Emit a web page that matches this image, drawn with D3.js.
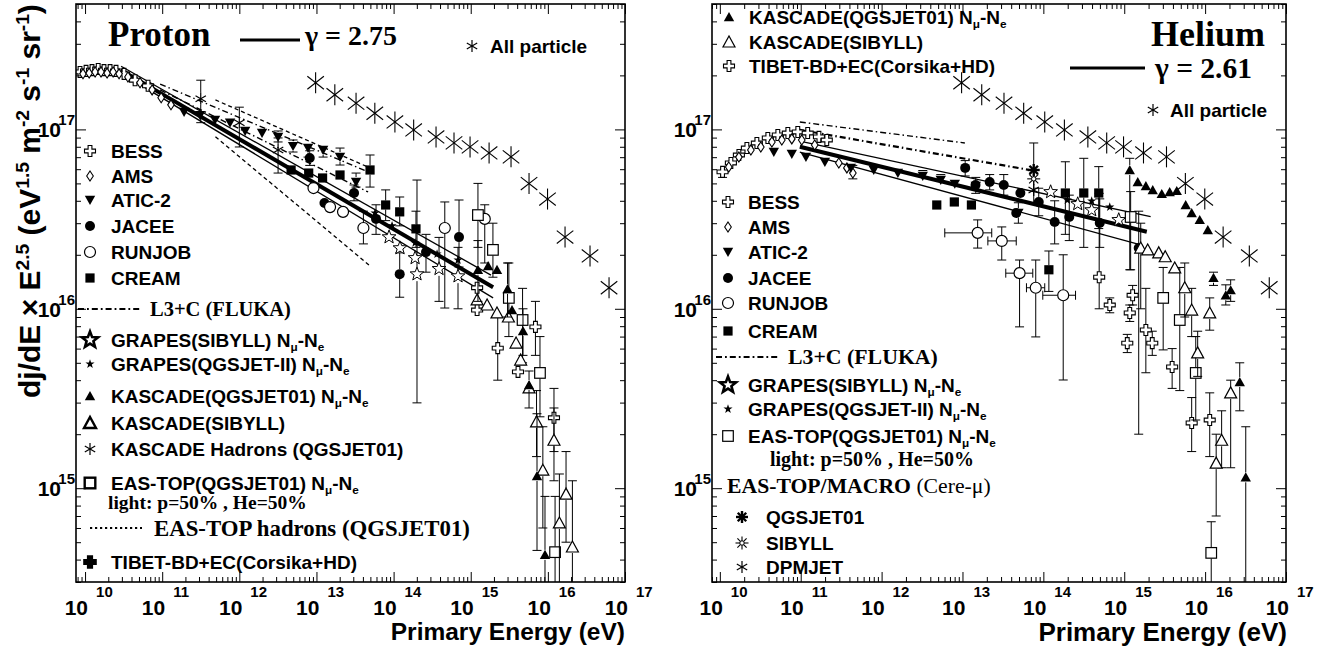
<!DOCTYPE html>
<html>
<head>
<meta charset="utf-8">
<title>Proton and helium spectra</title>
<script src="https://cdn.jsdelivr.net/npm/d3@7/dist/d3.min.js"></script>
<style>
  html,body{margin:0;padding:0;background:#fff;}
  svg{display:block;}
  .sans{font-family:"Liberation Sans",Arial,Helvetica,sans-serif;font-weight:bold;}
  .serif{font-family:"Liberation Serif","Times New Roman",Times,serif;font-weight:bold;}
</style>
</head>
<body>
<svg id="chart" width="1330" height="650"></svg>
<script>
// ---------------------------------------------------------------
// Data: [energy (eV), flux, fluxLow, fluxHigh, energyLow, energyHigh]
// flux = dj/dE x E^2.5 in eV^1.5 m^-2 s^-1 sr^-1
// ---------------------------------------------------------------
const allParticle = [
  [9.75e12,1.82e17],[1.73e13,1.56e17],[3.26e13,1.40e17],[5.71e13,1.23e17],
  [1.04e14,1.10e17],[1.82e14,9.93e16],[3.55e14,9.08e16],[6.07e14,8.41e16],
  [9.8e14,7.99e16],[1.73e15,7.39e16],[3.33e15,7.03e16],[5.7e15,4.99e16],
  [9.9e15,4.09e16],[1.67e16,2.51e16],[3.52e16,1.97e16],[6.21e16,1.31e16]
];

// ---- proton ----
const protonBESS = [
  [8.6e9,2.09e17],[1.03e10,2.12e17],[1.23e10,2.14e17],[1.48e10,2.17e17],[1.76e10,2.14e17],
  [2.11e10,2.14e17],[2.52e10,2.12e17],[3.2e10,2.04e17],[4.45e10,1.88e17],[6.56e10,1.75e17]
];
const protonAMS = [
  [9.4e9,2.04e17],[1.13e10,2.06e17],[1.35e10,2.09e17],[1.61e10,2.09e17],[1.93e10,2.06e17],
  [2.31e10,2.09e17],[2.76e10,2.04e17],[3.6e10,1.96e17],[5.16e10,1.82e17],[7.4e10,1.66e17],
  [9.7e10,1.50e17],[1.3e11,1.37e17]
];
const protonATIC2 = [
  [1.92e11,1.25e17],[3.1e11,1.20e17],[4.84e11,1.13e17],[7.58e11,1.09e17],[1.19e12,9.8e16],
  [1.97e12,9.55e16],[3.18e12,9.08e16,8.51e16,9.8e16],[4.97e12,8.07e16,7.48e16,8.73e16],
  [7.78e12,7.87e16,7.01e16,8.19e16],[1.22e13,7.68e16,7.01e16,7.98e16],
  [2.02e13,7.01e16,6.33e16,7.87e16],[3.26e13,5.09e16,4.77e16,5.71e16]
];
const protonKascadeHad = [
  [3.16e11,1.48e17,1.09e17,1.88e17],[1.0e12,1.09e17,7.98e16,1.33e17],[3.18e12,7.68e16,5.71e16,8.96e16]
];
const protonJACEE = [
  [8.18e12,6.93e16,6.3e16,7.6e16],[1.27e13,3.89e16],[3.07e13,4.42e16,4.0e16,4.9e16],
  [5.92e13,3.17e16,2.6e16,3.8e16],[1.2e14,1.56e16,1.16e16,2.05e16],
  [2.63e14,2.07e16,1.6e16,2.6e16],[7.05e14,2.51e16,1.71e16,4.04e16]
];
const protonRUNJOB = [
  [9.15e12,4.71e16],[1.5e13,3.69e16],[2.21e13,3.47e16],[4.06e13,2.82e16,2.3e16,3.5e16],
  [4.61e14,2.82e16,1.01e16,3.94e16],[1.52e15,3.17e16,1.8e16,3.8e16]
];
const protonCREAM = [
  [4.69e12,5.94e16],[7.93e12,5.71e16],[1.2e13,5.36e16],[2.02e13,5.57e16],
  [4.95e13,5.94e16,4.77e16,7.2e16],[7.89e13,3.79e16,3.1e16,4.6e16],
  [1.2e14,3.47e16,2.9e16,4.2e16],[1.95e14,2.79e16,2.2e16,3.5e16]
];
const protonGrapesSib = [
  [8.73e13,2.51e16],[1.21e14,2.18e16],[1.9e14,1.92e16],[2.01e14,1.56e16,2.99e15,5.22e16],
  [3.88e14,1.67e16,1.1e16,2.5e16],[6.84e14,1.52e16,1.0e16,2.2e16]
];
const protonGrapesQgs = [
  [5.74e13,3.42e16],[9.55e13,2.90e16],[1.9e14,2.33e16],[3.66e14,2.02e16],[6.84e14,1.87e16]
];
const protonKascadeQgs = [
  [1.24e15,1.65e16,1.1e16,2.4e16],[1.68e15,1.73e16],[2.19e15,1.65e16],
  [3.0e15,1.29e16,9e15,1.8e16],[3.43e15,9.84e15],[4.76e15,7.52e15,5.5e15,1.0e16],
  [5.7e15,3.76e15,2.8e15,4.5e15],[7.23e15,1.17e15,4.5e14,2.6e15],[9.18e15,4.25e14,2.5e14,9e14]
];
const protonKascadeSib = [
  [1.21e15,1.12e16],[1.63e15,1.05e16],[2.19e15,9.48e15],[3.08e15,9.0e15],[3.87e15,6.44e15],
  [4.44e15,5.18e15],[5.7e15,3.62e15],[7.13e15,2.34e15,1.5e15,3.5e15],
  [8.61e15,1.26e15,6e14,2.2e15],[1.2e16,1.85e15,1.1e15,2.8e15],[1.41e16,6.4e14,2.5e14,1.2e15],
  [1.72e16,9.27e14,5e14,1.6e15],[2.08e16,4.7e14,2.5e14,1.1e15]
];
const protonEasTop = [
  [1.24e15,3.33e16,2.2e16,5e16],[1.94e15,2.13e16,1.5e16,3e16],[3.12e15,1.15e16,7e15,1.8e16],
  [4.7e15,8.66e15,5e15,1.3e16],[7.9e15,4.39e15,2.5e15,7e15],[1.24e16,4.4e14,2.5e14,9e14]
];
const protonTibet = [
  [1.21e15,1.31e16],[1.21e15,9.84e15],[2.24e15,6.04e15,4e15,9e15],[4.1e15,4.45e15],
  [6.9e15,7.93e15,5.5e15,1.1e16],[1.2e16,2.47e15,1.6e15,3.6e15]
];
const protonFit   = [[2.93e10,2.14e17],[1.95e15,1.32e16]];
const protonFitHi = [[2.93e10,2.25e17],[1.83e15,1.54e16]];
const protonFitLo = [[2.93e10,2.06e17],[1.95e15,1.15e16]];
const protonL3CHi = [[9.4e10,1.79e17],[4.67e13,5.8e16]];
const protonL3CLo = [[9.4e10,1.66e17],[4.67e13,4.48e16]];
const protonEasHadHi = [[4.9e11,1.46e17],[4.53e13,6.2e16]];
const protonEasHadLo = [[4.9e11,9.1e16],[5.07e13,1.72e16]];

// ---- helium ----
const heliumBESS = [
  [1.08e10,5.8e16,5.4e16,6.2e16],[1.37e10,6.5e16],[1.72e10,7.2e16],[2.16e10,7.87e16],
  [2.87e10,8.4e16],[3.92e10,8.96e16],[5.21e10,9.31e16],[6.93e10,9.55e16],[9.2e10,9.68e16],
  [1.22e11,9.55e16],[1.68e11,9.08e16],[2.1e11,8.73e16]
];
const heliumAMS = [
  [1.29e10,6.17e16],[1.72e10,7.01e16],[2.42e10,7.68e16],[3.21e10,7.98e16],[4.4e10,8.51e16],
  [5.84e10,8.73e16],[7.76e10,8.85e16],[1.03e11,8.73e16],[1.49e11,8.19e16],[2.96e11,6.5e16],
  [3.72e11,6.1e16],[4.41e11,5.71e16,5.3e16,6.3e16]
];
const heliumATIC2 = [
  [4.65e10,7.48e16],[7.76e10,7.29e16],[1.16e11,7.01e16],[1.99e11,6.58e16],[4.16e11,6.1e16],
  [8.0e11,5.94e16],[1.59e12,5.71e16],[3.23e12,5.5e16,5.2e16,5.9e16],[5.39e12,5.22e16,4.9e16,5.6e16],
  [8.04e12,4.97e16],[1.46e13,4.84e16,4.4e16,5.4e16],[4.91e13,3.42e16,3e16,3.9e16]
];
const heliumJACEE = [
  [1.08e13,6.1e16,5.5e16,6.7e16],[1.45e13,4.9e16],[2.17e13,5.09e16,4.6e16,5.6e16],
  [3.24e13,4.9e16,4.3e16,5.6e16],[4.62e13,3.42e16],[5.2e13,4.42e16],
  [8.77e13,3.94e16,3.3e16,4.7e16],[1.38e14,3.05e16,2.3e16,4.0e16],[2.09e14,3.25e16,2.4e16,4.3e16],
  [4.98e14,3.01e16,2.2e16,4.1e16],[1.51e15,2.18e16,2.0e15,3.5e16]
];
const heliumRUNJOB = [
  [1.54e13,2.65e16,2.18e16,3.13e16,6.04e12,2.3e13],
  [3.06e13,2.39e16,1.87e16,2.86e16,2.06e13,4.62e13],
  [5.08e13,1.58e16,7.93e15,1.87e16,3.43e13,7.4e13],
  [8.05e13,1.31e16,6.97e15,1.87e16,6.18e13,1.04e14],
  [1.76e14,1.19e16,4.01e15,2.0e16,9.84e13,2.5e14]
];
const heliumCREAM = [
  [4.81e12,3.79e16],[7.93e12,3.94e16],[1.29e13,3.79e16],[1.17e14,1.65e16,1.25e16,2.1e16],
  [1.87e14,4.42e16,2.6e16,6.6e16],[3.16e14,4.42e16,2.2e16,6.9e16],[4.84e14,4.42e16,2.8e16,6.2e16]
];
const heliumGrapesSib = [[1.23e14,4.48e16],[2.66e14,3.84e16],[3.96e14,3.55e16],[8.55e14,3.13e16]];
const heliumGrapesQgs = [[1.98e14,4.04e16],[3.96e14,3.99e16],[6.62e14,3.69e16]];
const heliumMacroQgs = [[7.6e13,5.94e16,3.89e16,8.4e16]];
const heliumMacroSib = [[7.6e13,5.3e16]];
const heliumMacroDpm = [[7.6e13,4.6e16]];
const heliumKascadeQgs = [
  [1.17e15,5.94e16,1.65e16,6.9e16],[1.47e15,5.09e16],[1.85e15,4.84e16],[2.25e15,4.59e16],
  [2.91e15,4.37e16],[3.65e15,4.48e16],[4.46e15,4.54e16],[5.75e15,3.79e16],[6.82e15,3.42e16],
  [8.58e15,3.13e16],[1.08e16,2.75e16],[1.27e16,1.49e16,1.35e16,1.6e16],
  [1.8e16,1.19e16,1.05e16,1.36e16],[2.07e16,1.27e16,1.1e16,1.45e16],
  [2.68e16,3.91e15,2.7e15,5e15],[3.18e16,1.15e15,2.5e14,2.2e15]
];
const heliumKascadeSib = [
  [1.6e15,2.18e16,1.0e16,3.0e16],[1.95e15,2.13e16],[2.67e15,2.05e16],[3.21e15,1.95e16],
  [4.21e15,1.69e16],[5.6e15,1.31e16,9e15,1.8e16],[6.82e15,9.84e15,7e15,1.3e16],
  [1.14e16,9.48e15,7.6e15,1.15e16],[8.09e15,5.68e15,4.2e15,7.5e15],[2.07e16,3.4e15,1.3e15,4.0e15],
  [1.6e16,1.85e15,1.3e15,2.7e15],[1.37e16,1.38e15,7e14,2.0e15]
];
const heliumEasTop = [
  [1.2e15,3.25e16,1.65e16,4.5e16],[3.03e15,1.15e16,5.9e15,1.7e16],[4.86e15,8.66e15,3.5e15,1.7e16],
  [7.66e15,4.39e15,2.4e15,7e15],[1.19e16,4.36e14,2.5e14,6.5e14]
];
const heliumTibet = [
  [4.9e14,1.5e16,1.0e16,4.4e16],[6.62e14,1.05e16,9.5e15,1.15e16],[1.27e15,1.19e16,1.05e16,1.35e16],
  [1.17e15,9.48e15,8.5e15,1.05e16],[1.09e15,6.44e15,5.7e15,7.2e15],[1.85e15,7.62e15,4.4e15,1.3e16],
  [2.22e15,6.44e15,5.5e15,7.5e15],[3.91e15,4.74e15,3.6e15,6.0e15],[6.82e15,2.31e15,1.6e15,3.2e15],
  [1.14e16,2.4e15,1.5e15,3.4e15]
];
const heliumFit   = [[9.75e10,8.01e16],[1.9e15,2.69e16]];
const heliumFitHi = [[9.75e10,8.6e16],[2.12e15,3.26e16]];
const heliumFitLo = [[9.75e10,7.48e16],[1.6e15,2.27e16]];
const heliumL3CHi = [[9.75e10,1.10e17],[1.07e13,8.4e16]];
const heliumL3CLo = [[9.75e10,9.93e16],[6.8e13,5.94e16]];

// ---- axis labels ----
const xDecades = [1e10,1e11,1e12,1e13,1e14,1e15,1e16,1e17];
const yDecades = [1e15,1e16,1e17];
const xTitle = "Primary Energy (eV)";
const yTitleParts = ["dj/dE × E",{sup:"2.5"}," (eV",{sup:"1.5"}," m",{sup:"-2"}," s",{sup:"-1"}," sr",{sup:"-1"},")"];
const NmuNe = [{sub:"μ"},"-N",{sub:"e"}];

// ---- legends ----
const protonLegend = [
  {m:"ocross", parts:["BESS"]},
  {m:"diamond", parts:["AMS"]},
  {m:"tridown", parts:["ATIC-2"]},
  {m:"circle", parts:["JACEE"]},
  {m:"ocircle", parts:["RUNJOB"]},
  {m:"square", parts:["CREAM"]},
  {line:"dashdot", parts:["L3+C (FLUKA)"]},
  {m:"ostar", bold:true, parts:["GRAPES(SIBYLL) N",...NmuNe]},
  {m:"fstar", parts:["GRAPES(QGSJET-II) N",...NmuNe]},
  {m:"triup", parts:["KASCADE(QGSJET01) N",...NmuNe]},
  {m:"otriup", bold:true, parts:["KASCADE(SIBYLL)"]},
  {m:"aster", parts:["KASCADE Hadrons (QGSJET01)"]},
  {m:"osquare", bold:true, parts:["EAS-TOP(QGSJET01) N",...NmuNe]},
  {note:"light: p=50% , He=50%"},
  {line:"dotted", parts:["EAS-TOP hadrons (QGSJET01)"]},
  {m:"fcross", parts:["TIBET-BD+EC(Corsika+HD)"]}
];
const protonLegendY = [151,176,200,226,252,278,309,340,364,396,423,449,483,509,528,562];

const heliumLegendTop = [
  {m:"triup", parts:["KASCADE(QGSJET01) N",...NmuNe]},
  {m:"otriup", parts:["KASCADE(SIBYLL)"]},
  {m:"ocross", parts:["TIBET-BD+EC(Corsika+HD)"]}
];
const heliumLegendTopY = [17,42,66];
const heliumLegend = [
  {m:"ocross", parts:["BESS"]},
  {m:"diamond", parts:["AMS"]},
  {m:"tridown", parts:["ATIC-2"]},
  {m:"circle", parts:["JACEE"]},
  {m:"ocircle", parts:["RUNJOB"]},
  {m:"square", parts:["CREAM"]},
  {line:"dashdot", parts:["L3+C (FLUKA)"]},
  {m:"ostar", bold:true, parts:["GRAPES(SIBYLL) N",...NmuNe]},
  {m:"fstar", parts:["GRAPES(QGSJET-II) N",...NmuNe]},
  {m:"osquare", parts:["EAS-TOP(QGSJET01) N",...NmuNe]},
  {note:"light: p=50% , He=50%"}
];
const heliumLegendY = [202,227,252,278,303,331,357,385,409,436,466];
const macroLegend = [
  {m:"mqgs", parts:["QGSJET01"]},
  {m:"msib", parts:["SIBYLL"]},
  {m:"aster", parts:["DPMJET"]}
];
const macroLegendY = [517,543,567];

// ---------------------------------------------------------------
const svg = d3.select("#chart");
svg.append("rect").attr("width",1330).attr("height",650).attr("fill","#fff");

const plotTop = 4, plotBottom = 582;
const fluxRange = [3e14, 5e17];
const panels = [
  {id:"proton", left:76, right:625, eMin:7.63e9},
  {id:"helium", left:712, right:1286, eMin:8e9}
];

const GAP = {ocross:5.5,fcross:6,diamond:5,tridown:5,triup:5,circle:5,ocircle:5.5,square:4.5,
             osquare:5.5,ostar:7,fstar:4.5,otriup:6,aster:6,allp:0,mqgs:5.5,msib:6};

function starPath(ro, ri){
  const pts=[];
  for(let i=0;i<10;i++){
    const r = i%2===0?ro:ri, a = -Math.PI/2 + i*Math.PI/5;
    pts.push([r*Math.cos(a), r*Math.sin(a)]);
  }
  return "M"+pts.map(p=>p[0].toFixed(2)+","+p[1].toFixed(2)).join("L")+"Z";
}
function spokes(g, r, angles, w){
  angles.forEach(a=>{
    const c=Math.cos(a*Math.PI/180)*r, s=Math.sin(a*Math.PI/180)*r;
    g.append("line").attr("x1",-c).attr("y1",-s).attr("x2",c).attr("y2",s)
      .attr("stroke","#000").attr("stroke-width",w);
  });
}

function drawMarker(parent, type, cx, cy, bold){
  const g = parent.append("g").attr("transform",`translate(${cx},${cy})`);
  const sw = bold ? 2.4 : 1.2;
  switch(type){
    case "ocross": case "fcross": {
      const a = type==="fcross"?6:5.5, t = type==="fcross"?2.3:1.9;
      g.append("path").attr("d",`M${-t},${-a}H${t}V${-t}H${a}V${t}H${t}V${a}H${-t}V${t}H${-a}V${-t}H${-t}Z`)
        .attr("fill", type==="fcross"?"#000":"#fff").attr("stroke","#000").attr("stroke-width",type==="fcross"?1.6:1.1);
      break; }
    case "diamond":
      g.append("path").attr("d","M0,-5L3.3,0L0,5L-3.3,0Z").attr("fill","#fff").attr("stroke","#000").attr("stroke-width",1.1); break;
    case "tridown":
      g.append("path").attr("d","M-5.2,-4.2L5.2,-4.2L0,5Z").attr("fill","#000"); break;
    case "triup":
      g.append("path").attr("d","M-5.2,4.2L5.2,4.2L0,-5Z").attr("fill","#000"); break;
    case "otriup":
      g.append("path").attr("d","M-6,5L6,5L0,-6Z").attr("fill","#fff").attr("stroke","#000").attr("stroke-width",sw); break;
    case "circle":
      g.append("circle").attr("r",5).attr("fill","#000"); break;
    case "ocircle":
      g.append("circle").attr("r",5.5).attr("fill","#fff").attr("stroke","#000").attr("stroke-width",1.2); break;
    case "square":
      g.append("rect").attr("x",-4.6).attr("y",-4.6).attr("width",9.2).attr("height",9.2).attr("fill","#000"); break;
    case "osquare":
      g.append("rect").attr("x",-5.3).attr("y",-5.3).attr("width",10.6).attr("height",10.6)
        .attr("fill","#fff").attr("stroke","#000").attr("stroke-width",sw); break;
    case "ostar":
      g.append("path").attr("d",starPath(bold?8.5:7.2, bold?3.6:3)).attr("fill","#fff")
        .attr("stroke","#000").attr("stroke-width",bold?2.6:1); break;
    case "fstar":
      g.append("path").attr("d",starPath(4.8,1.9)).attr("fill","#000"); break;
    case "aster":
      spokes(g, 6, [90,30,150], 1.2); break;
    case "allp":
      spokes(g, 10.5, [90,38,142], 1.1); break;
    case "mqgs":
      spokes(g, 6, [0,45,90,135], 2.4); break;
    case "msib":
      spokes(g, 6.5, [0,45,90,135], 1.1);
      g.append("circle").attr("r",2.2).attr("fill","#fff").attr("stroke","#000").attr("stroke-width",1);
      break;
  }
}

function richText(parent, x, y, parts, cls, size, extra){
  const t = parent.append("text").attr("x",x).attr("y",y).attr("class",cls).attr("font-size",size);
  if(extra) extra(t);
  let shift = 0;
  parts.forEach(p=>{
    let txt, target, fs = null;
    if(typeof p === "string"){ txt=p; target=0; }
    else if(p.sub!=null){ txt=p.sub; target=size*0.24; fs=size*0.62; }
    else { txt=p.sup; target=-size*0.38; fs=size*0.64; }
    const ts = t.append("tspan").text(txt);
    if(target!==shift) ts.attr("dy", target-shift);
    if(fs) ts.attr("font-size", fs);
    shift = target;
  });
  return t;
}

function isDecade(v){ const l=Math.log10(v); return Math.abs(l-Math.round(l))<1e-6; }

function makePanel(p){
  const x = d3.scaleLog().domain([p.eMin,1e17]).range([p.left,p.right]);
  const y = d3.scaleLog().domain(fluxRange).range([plotBottom,plotTop]);
  const g = svg.append("g").attr("class","panel-"+p.id);
  const clipId = "clip-"+p.id;
  svg.append("clipPath").attr("id",clipId).append("rect")
    .attr("x",p.left).attr("y",plotTop).attr("width",p.right-p.left).attr("height",plotBottom-plotTop);
  const plot = g.append("g").attr("clip-path",`url(#${clipId})`);

  // ticks on all four sides, pointing inward
  const xt = x.ticks(), yt = y.ticks();
  const sets = [
    [d3.axisBottom, x, `translate(0,${plotBottom})`, xt],
    [d3.axisTop, x, `translate(0,${plotTop})`, xt],
    [d3.axisLeft, y, `translate(${p.left},0)`, yt],
    [d3.axisRight, y, `translate(${p.right},0)`, yt]
  ];
  sets.forEach(([axis, s, tr, ticks])=>{
    [[ticks.filter(v=>!isDecade(v)), -5],[ticks.filter(isDecade), -10]].forEach(([vals,len])=>{
      const a = g.append("g").attr("transform",tr)
        .call(axis(s).tickValues(vals).tickSize(len).tickFormat(""));
      a.select(".domain").remove();
      a.selectAll("line").attr("stroke","#000").attr("stroke-width",1);
    });
  });
  g.append("rect").attr("x",p.left).attr("y",plotTop).attr("width",p.right-p.left)
    .attr("height",plotBottom-plotTop).attr("fill","none").attr("stroke","#000").attr("stroke-width",1.6);

  // decade labels
  xDecades.forEach(v=>{
    const px = x(v), e = Math.round(Math.log10(v));
    g.append("text").attr("class","sans").attr("font-size",21).attr("x",px+3).attr("y",615)
      .attr("text-anchor","end").text("10");
    g.append("text").attr("class","sans").attr("font-size",15).attr("x",px+11).attr("y",597).text(e);
  });
  yDecades.forEach(v=>{
    const py = y(v), e = Math.round(Math.log10(v));
    g.append("text").attr("class","sans").attr("font-size",21).attr("x",p.left-15).attr("y",py+8)
      .attr("text-anchor","end").text("10");
    g.append("text").attr("class","sans").attr("font-size",15).attr("x",p.left-1).attr("y",py-4)
      .attr("text-anchor","end").text(e);
  });
  return {x, y, g, plot, p};
}

function plotLine(P, data, w, dash){
  P.plot.append("path").datum(data)
    .attr("d", d3.line().x(d=>P.x(d[0])).y(d=>P.y(d[1])))
    .attr("fill","none").attr("stroke","#000").attr("stroke-width",w)
    .attr("stroke-dasharray", dash||null);
}

function plotSeries(P, data, type, bold){
  const gap = GAP[type]||5, cap = 4.5;
  const eb = P.plot.append("g").attr("stroke","#000").attr("stroke-width",1);
  const seg = (x1,y1,x2,y2)=>eb.append("line").attr("x1",x1).attr("y1",y1).attr("x2",x2).attr("y2",y2);
  data.forEach(d=>{
    const [E,F,lo,hi,Elo,Ehi] = d;
    const cx = P.x(E), cy = P.y(F);
    if(lo!=null && hi!=null){
      const yl = P.y(lo), yh = P.y(hi);
      if(yl > cy+gap){ seg(cx,cy+gap,cx,yl); seg(cx-cap,yl,cx+cap,yl); }
      if(yh < cy-gap){ seg(cx,cy-gap,cx,yh); seg(cx-cap,yh,cx+cap,yh); }
    }
    if(Elo!=null && Ehi!=null){
      const xl = P.x(Elo), xh = P.x(Ehi);
      if(xl < cx-gap){ seg(xl,cy,cx-gap,cy); seg(xl,cy-cap,xl,cy+cap); }
      if(xh > cx+gap){ seg(cx+gap,cy,xh,cy); seg(xh,cy-cap,xh,cy+cap); }
    }
  });
  const mk = P.plot.append("g");
  data.forEach(d=>drawMarker(mk, type, P.x(d[0]), P.y(d[1]), bold));
}

function drawLegend(g, items, ys, mx, tx, noteX, noteSize, serifSize, hadSize){
  items.forEach((it,i)=>{
    const yy = ys[i];
    if(it.note){
      g.append("text").attr("class","serif").attr("font-size",noteSize).attr("x",noteX).attr("y",yy).text(it.note);
      return;
    }
    if(it.line==="dashdot"){
      g.append("line").attr("x1",mx-12).attr("x2",mx+50).attr("y1",yy).attr("y2",yy)
        .attr("stroke","#000").attr("stroke-width",2.2).attr("stroke-dasharray","6,3,1.8,3");
      richText(g, mx+60, yy+7, it.parts, "serif", serifSize);
      return;
    }
    if(it.line==="dotted"){
      g.append("line").attr("x1",mx).attr("x2",mx+52).attr("y1",yy).attr("y2",yy)
        .attr("stroke","#000").attr("stroke-width",2.2).attr("stroke-dasharray","2.2,2.8");
      richText(g, mx+64, yy+7.5, it.parts, "serif", hadSize);
      return;
    }
    drawMarker(g, it.m, mx, yy, it.bold);
    richText(g, tx, yy+6.8, it.parts, "sans", 19);
  });
}

// ---------------- proton panel ----------------
const PP = makePanel(panels[0]);
plotLine(PP, protonEasHadHi, 1.3, "4,3");
plotLine(PP, protonEasHadLo, 1.3, "4,3");
plotLine(PP, protonL3CHi, 1.4, "6,3,1.5,3");
plotLine(PP, protonL3CLo, 1.4, "6,3,1.5,3");
plotLine(PP, protonFitHi, 1.3);
plotLine(PP, protonFitLo, 1.3);
plotLine(PP, protonFit, 4);
plotSeries(PP, allParticle, "allp");
plotSeries(PP, protonBESS, "ocross");
plotSeries(PP, protonAMS, "diamond");
plotSeries(PP, protonATIC2, "tridown");
plotSeries(PP, protonKascadeHad, "aster");
plotSeries(PP, protonCREAM, "square");
plotSeries(PP, protonJACEE, "circle");
plotSeries(PP, protonRUNJOB, "ocircle");
plotSeries(PP, protonGrapesSib, "ostar");
plotSeries(PP, protonGrapesQgs, "fstar");
plotSeries(PP, protonEasTop, "osquare");
plotSeries(PP, protonTibet, "ocross");
plotSeries(PP, protonKascadeSib, "otriup");
plotSeries(PP, protonKascadeQgs, "triup");

drawLegend(PP.g, protonLegend, protonLegendY, 90, 111, 108, 19.5, 20.5, 22.8);
PP.g.append("text").attr("class","serif").attr("font-size",35).attr("x",108).attr("y",46).text("Proton");
PP.g.append("line").attr("x1",240).attr("x2",300).attr("y1",40).attr("y2",40).attr("stroke","#000").attr("stroke-width",3);
PP.g.append("text").attr("class","serif").attr("font-size",28).attr("x",305).attr("y",45).text("γ = 2.75");
drawMarker(PP.g, "aster", 472, 46);
PP.g.append("text").attr("class","sans").attr("font-size",19).attr("x",490).attr("y",53).text("All particle");
PP.g.append("text").attr("class","sans").attr("font-size",24.5).attr("x",625).attr("y",640)
  .attr("text-anchor","end").text(xTitle);

// ---------------- helium panel ----------------
const HP = makePanel(panels[1]);
plotLine(HP, heliumL3CHi, 1.4, "6,3,1.5,3");
plotLine(HP, heliumL3CLo, 2.2, "6,3,1.5,3");
plotLine(HP, heliumFitHi, 1.3);
plotLine(HP, heliumFitLo, 1.3);
plotLine(HP, heliumFit, 4);
plotSeries(HP, allParticle, "allp");
plotSeries(HP, heliumBESS, "ocross");
plotSeries(HP, heliumAMS, "diamond");
plotSeries(HP, heliumATIC2, "tridown");
plotSeries(HP, heliumCREAM, "square");
plotSeries(HP, heliumJACEE, "circle");
plotSeries(HP, heliumRUNJOB, "ocircle");
plotSeries(HP, heliumMacroQgs, "mqgs");
plotSeries(HP, heliumMacroSib, "msib");
plotSeries(HP, heliumMacroDpm, "aster");
plotSeries(HP, heliumGrapesSib, "ostar");
plotSeries(HP, heliumGrapesQgs, "fstar");
plotSeries(HP, heliumTibet, "ocross");
plotSeries(HP, heliumEasTop, "osquare");
plotSeries(HP, heliumKascadeSib, "otriup");
plotSeries(HP, heliumKascadeQgs, "triup");

drawLegend(HP.g, heliumLegendTop, heliumLegendTopY, 729, 749, 770, 20, 21.8, 22);
drawLegend(HP.g, heliumLegend, heliumLegendY, 728, 748, 770, 20, 21.8, 22);
HP.g.append("text").attr("class","serif").attr("font-size",21.7).attr("x",727).attr("y",493)
  .call(t=>{ t.append("tspan").text("EAS-TOP/MACRO ");
             t.append("tspan").attr("font-weight","normal").text("(Cere-μ)"); });
drawLegend(HP.g, macroLegend, macroLegendY, 742, 766, 770, 20, 21.8, 22);
HP.g.append("text").attr("class","serif").attr("font-size",36).attr("x",1151).attr("y",46).text("Helium");
HP.g.append("line").attr("x1",1070).attr("x2",1145).attr("y1",68).attr("y2",68).attr("stroke","#000").attr("stroke-width",3);
HP.g.append("text").attr("class","serif").attr("font-size",29.5).attr("x",1155).attr("y",78).text("γ = 2.61");
drawMarker(HP.g, "aster", 1153, 110);
HP.g.append("text").attr("class","sans").attr("font-size",19).attr("x",1170).attr("y",117).text("All particle");
HP.g.append("text").attr("class","sans").attr("font-size",26).attr("x",1287).attr("y",641)
  .attr("text-anchor","end").text(xTitle);

// ---------------- shared y title ----------------
richText(svg, 0, 0, yTitleParts, "sans", 30, t=>t.attr("transform","translate(40,398) rotate(-90)"));
</script>
</body>
</html>
